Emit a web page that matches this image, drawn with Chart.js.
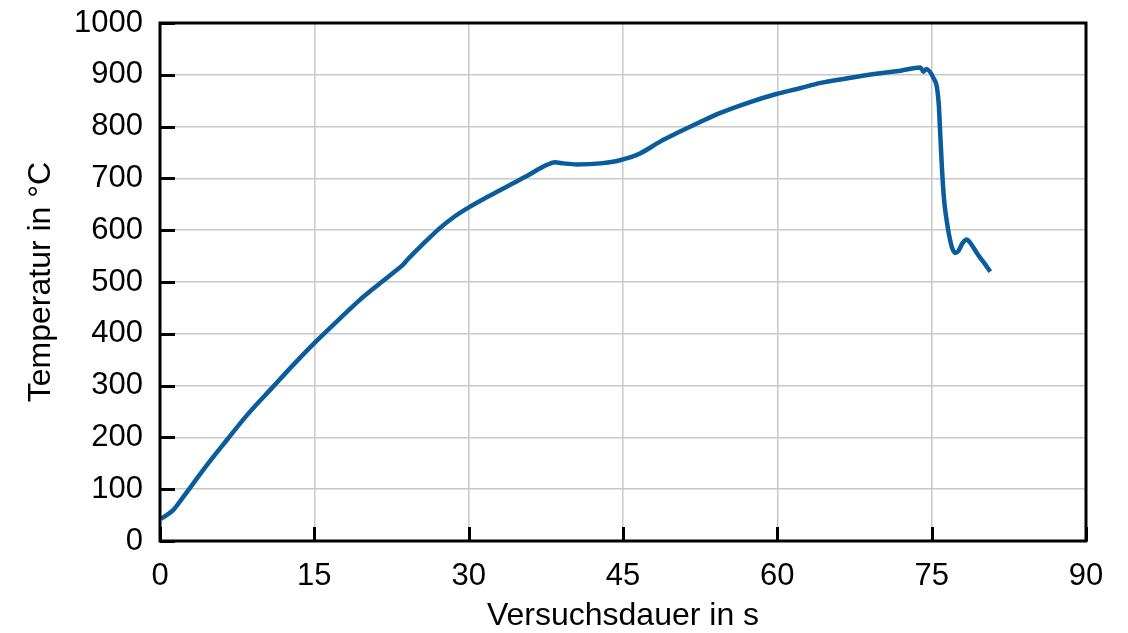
<!DOCTYPE html>
<html>
<head>
<meta charset="utf-8">
<script src="https://cdn.jsdelivr.net/npm/chart.js@4"></script>
<style>
    html, body { margin: 0; padding: 0; background: #fff; }
    #wrap { width: 1128px; height: 633px; }
</style>
</head>
<body>
<div id="wrap"><canvas id="chart" width="1128" height="633"></canvas></div>
<script>
// test duration in s and temperature in degC
const times = [0.1, 0.5, 1.3, 2.0, 2.9, 4.5, 6.5, 8.5, 11.0, 13.0, 15.0, 17.2, 19.4, 21.3, 23.0, 23.5, 24.0, 25.5,
    27.2, 28.6, 30.1, 31.9, 33.7, 35.6, 37.6, 38.4, 39.2, 40.5, 42.8, 44.7, 46.65, 48.6, 50.5, 52.5, 54.4, 57.0,
    59.9, 62.2, 64.1, 66.7, 70.0, 72.0, 73.9, 74.2, 74.5, 75.2, 75.5, 75.7, 75.8, 76.0, 76.2, 76.45, 76.7, 77.0,
    77.3, 77.6, 78.0, 78.4, 78.7, 79.1, 79.6, 80.1, 80.7]
const temps = [43, 48, 60, 78, 102, 145, 195, 244, 298, 341, 382, 424, 465, 496, 523, 531, 542, 572,
    604, 626, 645, 665, 684, 704, 726, 731, 729, 727, 729, 735, 748, 771, 790, 809, 826, 845,
    863, 874, 884, 893, 903, 908, 914, 906, 911, 893, 877, 840, 800, 720, 660, 620, 590, 565,
    556, 560, 575, 582, 577, 565, 550, 537, 520]

const xTicks = [0, 15, 30, 45, 60, 75, 90]
const yTicks = [0, 100, 200, 300, 400, 500, 600, 700, 800, 900, 1000]

const xLabel = 'Versuchsdauer in s'
const yLabel = 'Temperatur in °C'

const points = times.map((t, i) => ({ x: t, y: temps[i] }))

// frame round the plot plus ticks pointing inwards
const framePlugin = {
    id: 'frame',
    afterDraw(chart) {
        const { ctx, chartArea: a, scales } = chart
        ctx.save()
        ctx.strokeStyle = '#000'
        ctx.lineWidth = 3
        ctx.beginPath()
        scales.y.ticks.forEach(t => {
            const py = Math.round(scales.y.getPixelForValue(t.value)) + 0.5
            ctx.moveTo(a.left, py)
            ctx.lineTo(a.left + 15, py)
        })
        scales.x.ticks.forEach(t => {
            const px = Math.round(scales.x.getPixelForValue(t.value)) + 0.5
            ctx.moveTo(px, a.bottom)
            ctx.lineTo(px, a.bottom - 14)
        })
        ctx.stroke()
        ctx.strokeRect(a.left, a.top, a.right - a.left, a.bottom - a.top)
        ctx.restore()
    }
}

const tickFont = { family: '"Liberation Sans", Arial, sans-serif', size: 31 }
const titleFont = { family: '"Liberation Sans", Arial, sans-serif', size: 32 }

const noOverflow = (scale) => {
    scale.paddingTop = 0
    scale.paddingBottom = 0
    scale.paddingLeft = 0
    scale.paddingRight = 0
}

const config = {
    type: 'line',
    data: {
        datasets: [
            {
                label: 'Temperatur',
                data: points,
                borderColor: '#0a5c9c',
                borderWidth: 4.5,
                pointRadius: 0,
                cubicInterpolationMode: 'monotone',
                fill: false
            }
        ]
    },
    options: {
        responsive: false,
        animation: false,
        layout: {
            padding: { top: 23, right: 42, left: 0, bottom: 0 }
        },
        plugins: {
            legend: { display: false },
            tooltip: { enabled: false }
        },
        scales: {
            x: {
                type: 'linear',
                min: 0,
                max: 90,
                afterBuildTicks: (scale) => { scale.ticks = xTicks.map(v => ({ value: v })) },
                afterFit: (scale) => { scale.height = 92; noOverflow(scale) },
                grid: { color: '#c8c8c8', lineWidth: 1.5, drawTicks: false },
                border: { display: false },
                ticks: { color: '#000', font: tickFont, padding: 17, maxRotation: 0, callback: v => String(v) },
                title: { display: true, text: xLabel, color: '#000', font: titleFont, padding: { top: 0, bottom: -2 } }
            },
            y: {
                min: 0,
                max: 1000,
                afterBuildTicks: (scale) => { scale.ticks = yTicks.map(v => ({ value: v })) },
                afterFit: (scale) => { scale.width = 160; noOverflow(scale) },
                grid: { color: '#c8c8c8', lineWidth: 1.5, drawTicks: false },
                border: { display: false },
                ticks: { color: '#000', font: tickFont, padding: 17, callback: v => String(v) },
                title: { display: true, text: yLabel, color: '#000', font: titleFont, padding: { top: 22, bottom: 0 } }
            }
        }
    },
    plugins: [framePlugin]
}

const ctx = document.getElementById('chart').getContext('2d')
new Chart(ctx, config)
</script>
</body>
</html>
